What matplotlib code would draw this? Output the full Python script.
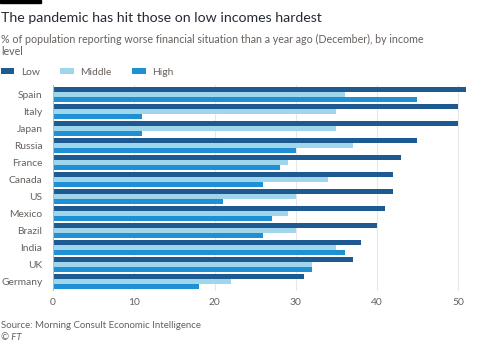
import numpy as np
import matplotlib.pyplot as plt
from matplotlib.patches import Rectangle

# data
countries = ['Spain', 'Italy', 'Japan', 'Russia', 'France', 'Canada', 'US',
             'Mexico', 'Brazil', 'India', 'UK', 'Germany']
low = [51, 50, 50, 45, 43, 42, 42, 41, 40, 38, 37, 31]
middle = [36, 35, 35, 37, 29, 34, 30, 29, 30, 35, 32, 22]
high = [45, 11, 11, 30, 28, 26, 21, 27, 26, 36, 32, 18]
series_names = ['Low', 'Middle', 'High']
xticks = [0, 10, 20, 30, 40, 50]

colors = ['#1d5a92', '#9fd6ec', '#1f90d3']
grey = '#66605c'

plt.rcParams['font.family'] = ['Lato', 'DejaVu Sans']

fig = plt.figure(figsize=(4.8, 3.43), dpi=100)
fig.patch.set_facecolor('white')
ax = fig.add_axes([0.110, 0.152, 0.866, 0.600])

y = np.arange(len(countries))
h = 0.28
for i, (vals, c, name) in enumerate(zip([low, middle, high], colors, series_names)):
    ax.barh(y + (i - 1) * (h + 0.02), vals, height=h, color=c, label=name, zorder=3)

ax.set_ylim(len(countries) - 0.45, -0.55)
ax.set_xlim(0, 51.3)
ax.set_xticks(xticks)
ax.set_yticks(y)
ax.set_yticklabels(countries)
ax.tick_params(axis='both', length=0, labelsize=7.4, colors=grey, pad=5)
ax.tick_params(axis='y', pad=7.5)
ax.grid(axis='x', color='#e9e6e3', linewidth=0.8, zorder=0)
for s in ax.spines.values():
    s.set_visible(False)
ax.axvline(0, color='#bdb8b4', linewidth=0.8, zorder=4)

# header
fig.add_artist(Rectangle((0, 1 - 3 / 343), 41 / 480, 3 / 343, transform=fig.transFigure,
                         color='black'))
fig.text(0.002, 0.948, 'The pandemic has hit those on low incomes hardest',
         fontsize=10.2, color='#262a33', va='center')
fig.text(0.002, 0.867, '% of population reporting worse financial situation than a year ago (December), by income\nlevel',
         fontsize=7.7, color=grey, va='center', linespacing=1.15)

handles, labels = ax.get_legend_handles_labels()
fig.legend(handles, labels, loc='center left', bbox_to_anchor=(-0.018, 0.79), ncol=3,
           frameon=False, fontsize=7.4, labelcolor=grey, handlelength=1.35, handleheight=0.65,
           columnspacing=2.0, handletextpad=0.6)

fig.text(0.002, 0.052, 'Source: Morning Consult Economic Intelligence', fontsize=6.9, color=grey,
         va='center')
fig.text(0.002, 0.017, '© FT', fontsize=6.9, color=grey, va='center', style='italic')

fig.savefig('out.png', dpi=100, facecolor='white')
